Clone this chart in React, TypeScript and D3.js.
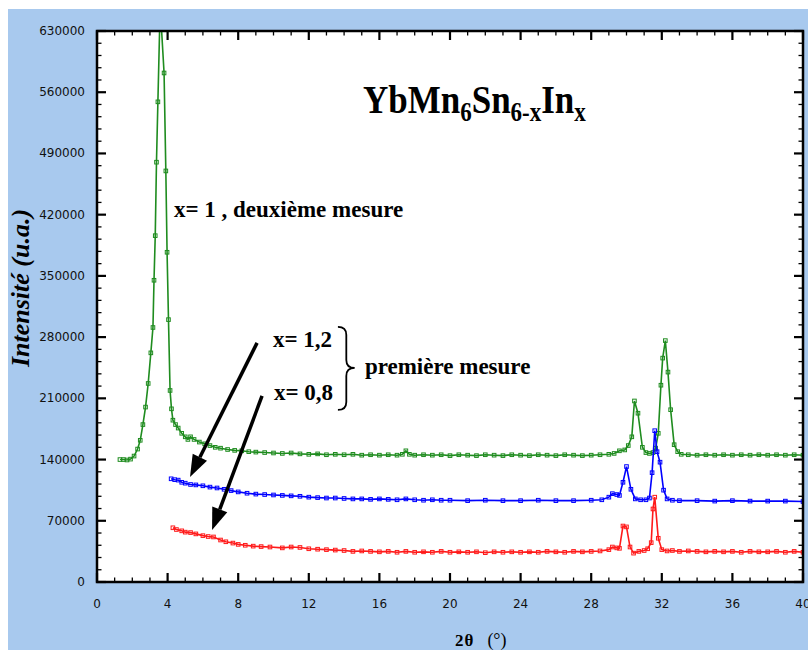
import React from 'react';
import * as d3 from 'd3';

// ---- data (2θ in degrees, intensity in counts) ----
const greenTheta = [1.3,1.5,1.7,1.9,2.1,2.3,2.45,2.6,2.75,2.9,3.05,3.17,3.23,3.3,3.37,3.45,3.55,3.65,3.8,3.9,3.97,4.05,4.14,4.22,4.3,4.45,4.6,4.8,5.0,5.15,5.3,5.5,5.8,6.1,6.4,6.7,7.0,7.4,7.8,8.2,8.6,9.0,9.5,10.0,10.5,11,11.5,12,12.5,13,13.5,14,14.5,15,15.5,16,16.5,17,17.3,17.5,17.7,18,18.5,19,19.5,20,20.5,21,21.5,22,22.5,23,23.5,24,24.5,25,25.5,26,26.5,27,27.5,28,28.5,29,29.3,29.6,29.9,30.1,30.3,30.45,30.65,30.9,31.1,31.3,31.5,31.65,31.8,31.95,32.05,32.2,32.35,32.5,32.7,32.9,33.1,33.5,34,34.5,35,35.5,36,36.5,37,37.5,38,38.5,39,39.5,40];
const greenCounts = [140,140,139.5,140.5,144,152,162,180,200,227,262,291,345,396,480,549,634,634,582,470,377,300,219,198,185,180,176,170,166,163,166,163,160,158,156,154,153,151.5,150.5,150,149,148.5,148,147.5,147,147.5,146.5,146,146.5,145.5,146,145.5,146,145,145.5,145,145.5,145,146,150,146,145,145.5,145,145.5,144.5,145.5,145,144.5,145.5,145,144.5,145.5,145,144.5,145.5,145,144.5,145.5,145,144.5,145,145.5,146,147,150,151,156,166,207,193,154,148,147,148,153,170,225,256,276,240,197,157,149,146,145.5,145,145.5,145,145.5,145,145.5,145,145.5,145,145.5,145,145.5,145].map(v => v * 1000);

const blueTheta = [4.2,4.4,4.6,4.8,5.0,5.3,5.6,6.0,6.4,6.8,7.2,7.6,8.0,8.5,9.0,9.5,10,10.5,11,11.5,12,12.5,13,13.5,14,14.5,15,15.5,16,16.5,17,17.5,18,18.5,19,19.5,20,21,22,23,24,25,26,27,28,28.6,29.0,29.2,29.45,29.6,29.8,30.0,30.25,30.5,30.8,31.1,31.3,31.45,31.6,31.73,31.9,32.1,32.3,32.6,33,34,35,36,37,38,39,40];
const blueCounts = [118,117,116.5,114,113,111.5,111,110,108.5,107.5,106,104.5,103,101.5,100.5,100,99.5,99,98.5,98,97,96.5,96,96,95.5,95,95,94.5,95,94.5,94,95,94,93.5,94,93.5,93.5,93,93.5,93,93,93.5,93,93,93.5,94,97,101,100,99,114,132,106,95,94,94,96,125,173,149,137,105,95,93.5,93,93,92.5,93,92.5,92.5,92.5,92].map(v => v * 1000);

const redTheta = [4.3,4.5,4.8,5.0,5.3,5.6,6.0,6.3,6.6,7.0,7.3,7.7,8.0,8.4,8.85,9.3,9.8,10.5,11,11.5,12,12.5,13,13.5,14,14.5,15,15.5,16,16.5,17,17.5,18,18.5,19,19.5,20,20.5,21,21.5,22,22.5,23,23.5,24,24.5,25,25.5,26,26.5,27,27.5,28,28.5,29,29.2,29.45,29.6,29.8,30.0,30.2,30.4,30.7,31.0,31.2,31.4,31.5,31.6,31.8,32.0,32.3,32.6,33,33.5,34,34.5,35,35.5,36,36.5,37,37.5,38,38.5,39,39.5,40];
const redCounts = [62,60,58.5,57,56.5,55,53,52,51.5,48,46,44.5,43,42,41,40.5,40,39,40,39.5,38,37.5,37,36.5,36,35,35.5,35,34.5,35,34,35,34,34.5,34,35,34,34.5,34,34.5,33.5,34.5,34,34.5,34,34.5,34,35,34.5,34,35,34.5,35,35.5,37,40,39,38.5,64,63,40,33,35,36,38,45,83.5,97,50,37,35.5,36,35,35.5,35,34.5,35,34.5,35,34,35,34.5,34.5,35,34,35,34].map(v => v * 1000);

const xTickValues = [0, 4, 8, 12, 16, 20, 24, 28, 32, 36, 40];
const yTickValues = [0, 70000, 140000, 210000, 280000, 350000, 420000, 490000, 560000, 630000];

const seriesColors = { green: '#1f8c1f', blue: '#0000ff', red: '#ff1a1a' };

// ---- layout ----
const W = 808, H = 650;
const M = { left: 97, top: 31, right: 803, bottom: 582 };

export default function App() {
  const x = d3.scaleLinear().domain([0, 40]).range([M.left, M.right]);
  const y = d3.scaleLinear().domain([0, 630000]).range([M.bottom, M.top]);

  const line = d3.line<[number, number]>().x(d => x(d[0])).y(d => y(d[1]));
  const series = [
    { key: 'green', th: greenTheta, c: greenCounts, color: seriesColors.green },
    { key: 'blue', th: blueTheta, c: blueCounts, color: seriesColors.blue },
    { key: 'red', th: redTheta, c: redCounts, color: seriesColors.red },
  ];

  const xMinor = d3.range(0, 41, 1);
  const yMinor = d3.range(0, 630001, 14000);

  const arrowHead = (x1: number, y1: number, x2: number, y2: number) => {
    const ang = Math.atan2(y2 - y1, x2 - x1);
    const len = 22, half = 8;
    const bx = x2 - len * Math.cos(ang), by = y2 - len * Math.sin(ang);
    const px = -Math.sin(ang) * half, py = Math.cos(ang) * half;
    return { path: `M${x2},${y2}L${bx + px},${by + py}L${bx - px},${by - py}Z`, bx, by };
  };

  const arrows = [
    { from: [9.07, 273400], to: [5.27, 120100] },
    { from: [9.35, 212700], to: [6.52, 59500] },
  ];

  // brace
  const bx0 = x(13.65), bx1 = x(14.6);
  const byTop = y(291700), byBot = y(196700), byMid = y(244800);
  const bm = (bx0 + bx1) / 2;
  const bracePath = `M${bx0},${byTop} Q${bm},${byTop} ${bm},${byTop + 8} L${bm},${byMid - 8} Q${bm},${byMid} ${bx1},${byMid} Q${bm},${byMid} ${bm},${byMid + 8} L${bm},${byBot - 8} Q${bm},${byBot} ${bx0},${byBot}`;

  const annFont = '"Liberation Serif", "Times New Roman", serif';
  const titleX = x(15.07), titleY = y(536000);

  return (
    <svg width={W} height={H} style={{ position: 'absolute', left: 0, top: 0 }}>
      <defs>
        <clipPath id="plotClip">
          <rect x={M.left} y={M.top} width={M.right - M.left} height={M.bottom - M.top} />
        </clipPath>
      </defs>
      <rect x={0} y={0} width={W} height={H} fill="#ffffff" />
      <rect x={8} y={9} width={W - 8} height={H - 9} fill="#a8c9ee" />
      <rect x={M.left} y={M.top} width={M.right - M.left} height={M.bottom - M.top} fill="#ffffff" />

      {/* series */}
      <g clipPath="url(#plotClip)">
        {series.map(s => {
          const pts = s.th.map((t, i) => [t, s.c[i]] as [number, number]);
          return (
            <g key={s.key}>
              <path d={line(pts) || ''} fill="none" stroke={s.color} strokeWidth={1.6} />
              {pts.map((p, i) => (
                <rect key={i} x={x(p[0]) - 1.8} y={y(p[1]) - 1.8} width={3.6} height={3.6}
                  fill="none" stroke={s.color} strokeWidth={1} />
              ))}
            </g>
          );
        })}
      </g>

      {/* axes frame */}
      <g stroke="#000" fill="none">
        <rect x={M.left} y={M.top} width={M.right - M.left} height={M.bottom - M.top} strokeWidth={2.5} />
        {xMinor.map(v => {
          const major = v % 4 === 0;
          const L = major ? 9 : 4.5;
          return (
            <g key={'xt' + v} strokeWidth={major ? 2.2 : 1.3}>
              <line x1={x(v)} x2={x(v)} y1={M.bottom} y2={M.bottom - L} />
              <line x1={x(v)} x2={x(v)} y1={M.top} y2={M.top + L} />
            </g>
          );
        })}
        {yMinor.map(v => {
          const major = v % 70000 === 0;
          const L = major ? 9 : 4.5;
          return (
            <g key={'yt' + v} strokeWidth={major ? 2.2 : 1.3}>
              <line x1={M.left} x2={M.left + L} y1={y(v)} y2={y(v)} />
              <line x1={M.right} x2={M.right - L} y1={y(v)} y2={y(v)} />
            </g>
          );
        })}
      </g>

      {/* tick labels */}
      <g fontFamily='"DejaVu Sans", sans-serif' fontSize={12} fill="#111">
        {yTickValues.map(v => (
          <text key={'yl' + v} x={85} y={y(v)} textAnchor="end" dominantBaseline="central">{v}</text>
        ))}
        {xTickValues.map(v => (
          <text key={'xl' + v} x={x(v)} y={604} textAnchor="middle" dominantBaseline="central">{v}</text>
        ))}
      </g>

      {/* axis titles */}
      <text transform={`translate(29,288) rotate(-90)`} textAnchor="middle"
        fontFamily={annFont} fontWeight="bold" fontStyle="italic" fontSize={26} fill="#000">
        Intensité (u.a.)
      </text>
      <text x={455} y={646} fontFamily={annFont} fontSize={17} fill="#000">
        <tspan fontWeight="bold">2</tspan>
        <tspan fontWeight="bold" dx={1}>θ</tspan>
        <tspan dx={14} fontSize={18}>(°)</tspan>
      </text>

      {/* title */}
      <g transform={`translate(${titleX},${titleY}) scale(1,1.15)`}>
        <text x={0} y={0} fontFamily={annFont} fontWeight="bold" fontSize={35} fill="#000">
          YbMn<tspan fontSize={23} dy={7}>6</tspan><tspan dy={-7}>Sn</tspan><tspan fontSize={23} dy={7}>6-x</tspan><tspan dy={-7}>In</tspan><tspan fontSize={23} dy={7}>x</tspan>
        </text>
      </g>

      {/* annotations */}
      <g fontFamily={annFont} fontWeight="bold" fontSize={23} fill="#000">
        <text x={x(4.36)} y={y(417500)}>x= 1 , deuxième mesure</text>
        <text x={x(9.97)} y={y(268800)}>x= 1,2</text>
        <text x={x(10.03)} y={y(208200)}>x= 0,8</text>
        <text x={x(15.18)} y={y(237900)}>première mesure</text>
      </g>
      <path d={bracePath} fill="none" stroke="#000" strokeWidth={1.8} />
      {arrows.map((a, i) => {
        const x1 = x(a.from[0]), y1 = y(a.from[1]), x2 = x(a.to[0]), y2 = y(a.to[1]);
        const h = arrowHead(x1, y1, x2, y2);
        return (
          <g key={'ar' + i}>
            <line x1={x1} y1={y1} x2={h.bx} y2={h.by} stroke="#000" strokeWidth={3.5} />
            <path d={h.path} fill="#000" />
          </g>
        );
      })}
    </svg>
  );
}
